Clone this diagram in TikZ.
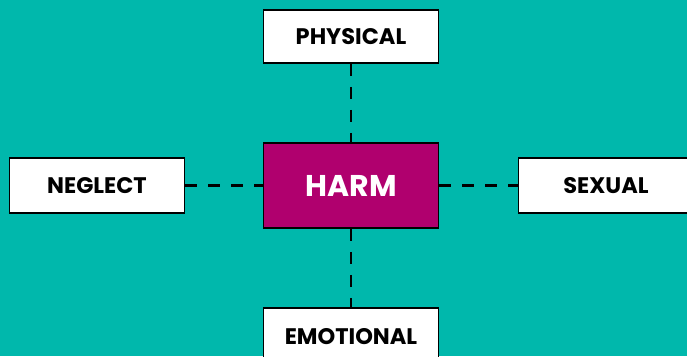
\documentclass[tikz,border=0pt]{standalone}
\usepackage{fontspec}
\setmainfont{Poppins}
\definecolor{teal1}{HTML}{00B8AC}
\definecolor{harmred}{HTML}{B0006E}
\tikzset{
  typebox/.style={draw=black,line width=1.6pt,fill=white,minimum width=175pt,minimum height=52pt,inner sep=0pt,font=\fontsize{22.5}{22.5}\selectfont\bfseries},
  harmbox/.style={typebox,fill=harmred,minimum height=85pt,text=white,font=\fontsize{30}{30}\selectfont\bfseries},
  link/.style={line width=2.6pt,dash pattern=on 12pt off 11pt}
}
\begin{document}
\begin{tikzpicture}[x=1pt,y=1pt]
  \fill[teal1] (0,0) rectangle (687,-356);
  \useasboundingbox (0,0) rectangle (687,-356);
  \node[harmbox] (harm) at (351,-185.5) {HARM};
  \node[typebox,minimum height=53pt] (physical) at (351,-36.5) {PHYSICAL};
  \node[typebox,minimum height=55pt] (neglect) at (97,-185.5) {NEGLECT};
  \node[typebox,minimum height=55pt] (sexual) at (606,-185.5) {SEXUAL};
  \node[typebox,minimum height=57pt] (emotional) at (351,-336.5) {EMOTIONAL};

  % connectors
  \draw[link] (physical) -- (harm);
  \draw[link] (harm) -- (emotional);
  \draw[link] (neglect) -- (harm);
  \draw[link] (harm) -- (sexual);
\end{tikzpicture}
\end{document}
